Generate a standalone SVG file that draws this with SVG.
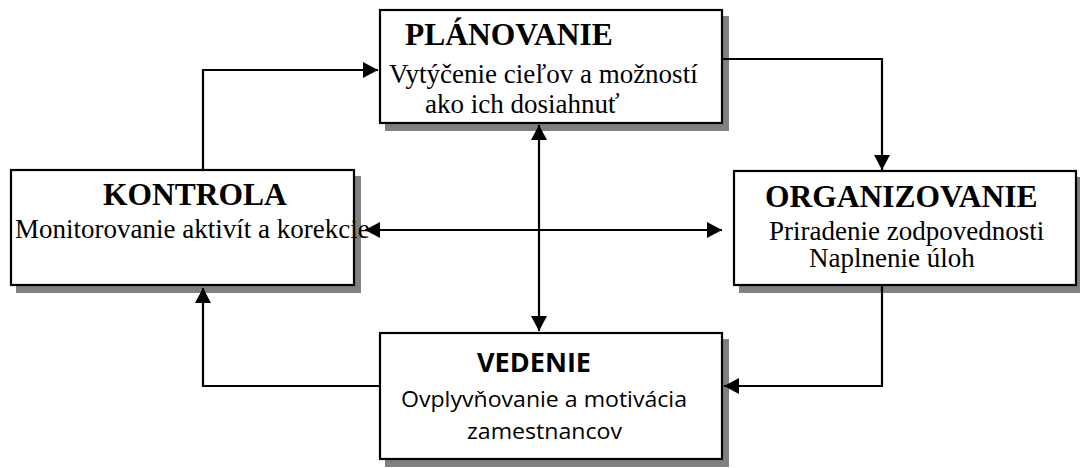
<svg xmlns="http://www.w3.org/2000/svg" width="1080" height="468" viewBox="0 0 1080 468">
<style>
.shadow{fill:#808080;stroke:none}
.box{fill:#ffffff;stroke:#000000;stroke-width:2.2}
.ttl{font-family:"Liberation Serif","Times New Roman",serif;font-weight:bold;font-size:31.5px;fill:#000}
.sub{font-family:"Liberation Serif","Times New Roman",serif;font-size:27px;fill:#000}
.ttl2{font-family:"Open Sans","Liberation Sans",sans-serif;font-weight:bold;font-size:26px;fill:#000}
.sub2{font-family:"Open Sans","Liberation Sans",sans-serif;font-size:22.5px;fill:#000}
.conn{fill:none;stroke:#000000;stroke-width:2.2}
</style>
<defs>
<marker id="arr" markerUnits="userSpaceOnUse" markerWidth="16" markerHeight="16" refX="15" refY="8" orient="auto-start-reverse">
<path d="M0,0 L15,8 L0,16 Z" fill="#000"/>
</marker>
</defs>
<rect x="0" y="0" width="1080" height="468" fill="#ffffff"/>
<g id="planovanie">
<rect class="shadow" x="385" y="16" width="344" height="115"/>
<rect class="box" x="380" y="10" width="342" height="113"/>
<text class="ttl" x="405" y="45">PLÁNOVANIE</text>
<text class="sub" x="389" y="83">Vytýčenie cieľov a možností</text>
<text class="sub" x="425" y="113">ako ich dosiahnuť</text>
</g>
<g id="kontrola">
<rect class="shadow" x="16" y="176" width="345" height="117"/>
<rect class="box" x="11" y="170" width="343" height="115"/>
<text class="ttl" x="103" y="205">KONTROLA</text>
<text class="sub" x="15" y="238">Monitorovanie aktivít a korekcie</text>
</g>
<g id="organizovanie">
<rect class="shadow" x="739" y="177" width="345" height="116"/>
<rect class="box" x="734" y="171" width="342" height="114"/>
<text class="ttl" x="765" y="207">ORGANIZOVANIE</text>
<text class="sub" x="769" y="240">Priradenie zodpovednosti</text>
<text class="sub" x="809" y="267">Naplnenie úloh</text>
</g>
<g id="vedenie">
<rect class="shadow" x="385" y="339" width="344" height="128"/>
<rect class="box" x="380" y="333" width="342" height="126"/>
<text class="ttl2" x="477" y="372" textLength="114" lengthAdjust="spacingAndGlyphs">VEDENIE</text>
<text class="sub2" x="401" y="407" textLength="286" lengthAdjust="spacingAndGlyphs">Ovplyvňovanie a motivácia</text>
<text class="sub2" x="467" y="439" textLength="155" lengthAdjust="spacingAndGlyphs">zamestnancov</text>
</g>
<g id="connectors">
<path class="conn" d="M203,169 V70 H378" marker-end="url(#arr)"/>
<path class="conn" d="M723,59 H882 V170" marker-end="url(#arr)"/>
<path class="conn" d="M882,286 V386 H724" marker-end="url(#arr)"/>
<path class="conn" d="M380,386 H203 V288" marker-end="url(#arr)"/>
<path class="conn" d="M539,125 V331" marker-start="url(#arr)" marker-end="url(#arr)"/>
<path class="conn" d="M365,230 H722" marker-start="url(#arr)" marker-end="url(#arr)"/>
</g>
</svg>
